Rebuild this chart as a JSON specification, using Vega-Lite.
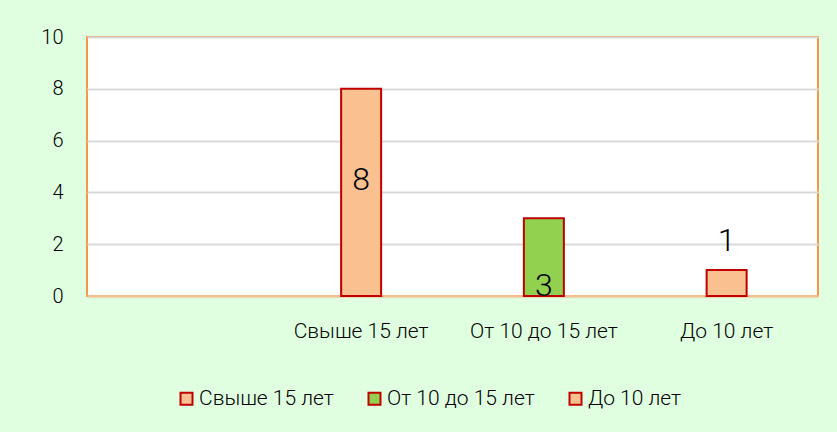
{
  "$schema": "https://vega.github.io/schema/vega-lite/v6.json",
  "autosize": {"type": "none"},
  "width": 731,
  "height": 259,
  "padding": {"left": 87, "top": 37, "right": 19, "bottom": 136},
  "background": "#E0FFE0",
  "config": {
    "view": {"fill": "#FFFFFF", "stroke": "#F79646", "strokeWidth": 2},
    "font": "Roboto",
    "axis": {"labelFont": "Roboto", "labelColor": "#000000", "labelFontSize": 20, "labelFontWeight": 300},
    "legend": {"labelFont": "Roboto", "labelColor": "#000000", "labelFontSize": 21, "labelFontWeight": 300}
  },
  "data": {
    "values": [
      {"category": "Свыше 15 лет", "value": 8},
      {"category": "От 10 до 15 лет", "value": 3},
      {"category": "До 10 лет", "value": 1}
    ]
  },
  "encoding": {
    "x": {
      "field": "category",
      "type": "nominal",
      "sort": null,
      "scale": {"domain": ["", "Свыше 15 лет", "От 10 до 15 лет", "До 10 лет"], "paddingInner": 0, "paddingOuter": 0},
      "axis": {"title": null, "labelAngle": 0, "labelFontSize": 21, "ticks": false, "domain": true, "domainColor": "#FAC090", "domainWidth": 2, "labelPadding": 24}
    },
    "y": {
      "field": "value",
      "type": "quantitative",
      "scale": {"domain": [0, 10]},
      "axis": {"title": null, "values": [0, 2, 4, 6, 8, 10], "ticks": false, "domain": false, "gridColor": "#D9D9D9", "gridWidth": 2, "labelPadding": 24}
    }
  },
  "layer": [
    {
      "mark": {"type": "bar", "size": 40, "stroke": "#C00000", "strokeWidth": 2},
      "encoding": {
        "color": {
          "field": "category",
          "type": "nominal",
          "scale": {"domain": ["Свыше 15 лет", "От 10 до 15 лет", "До 10 лет"], "range": ["#FAC090", "#92D050", "#FAC090"]},
          "legend": {
            "title": null,
            "orient": "none",
            "direction": "horizontal",
            "legendX": 89,
            "legendY": 351,
            "symbolType": "square",
            "symbolSize": 144,
            "symbolStrokeColor": "#C00000",
            "symbolStrokeWidth": 2,
            "symbolOpacity": 1,
            "labelOffset": 2,
            "columnPadding": 30
          }
        }
      }
    },
    {
      "transform": [{"filter": "datum.category === 'Свыше 15 лет'"}],
      "mark": {"type": "text", "fontSize": 32, "fontWeight": 300, "baseline": "middle", "dy": 91, "color": "#000000"},
      "encoding": {"text": {"field": "value"}}
    },
    {
      "transform": [{"filter": "datum.category === 'От 10 до 15 лет'"}],
      "mark": {"type": "text", "fontSize": 32, "fontWeight": 300, "baseline": "alphabetic", "dy": 0, "color": "#000000"},
      "encoding": {"text": {"field": "value"}, "y": {"datum": 0}}
    },
    {
      "transform": [{"filter": "datum.category === 'До 10 лет'"}],
      "mark": {"type": "text", "fontSize": 32, "fontWeight": 300, "baseline": "alphabetic", "dy": -19, "color": "#000000"},
      "encoding": {"text": {"field": "value"}}
    }
  ]
}
